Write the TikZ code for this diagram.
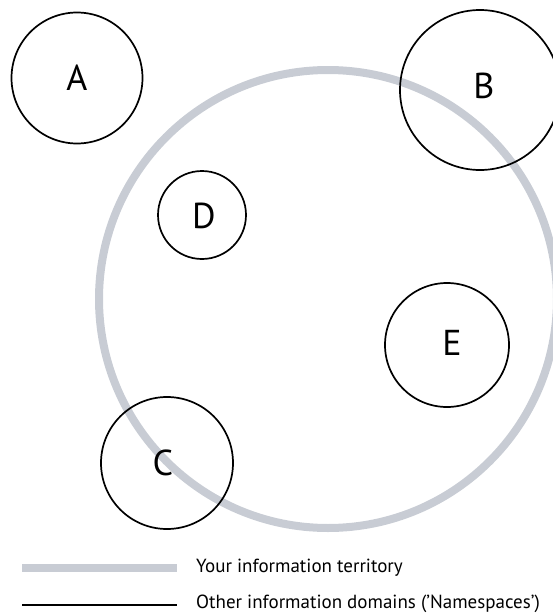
\documentclass[tikz,border=0pt]{standalone}
\usepackage{fontspec}
\setmainfont{PT Sans}
\definecolor{territory}{RGB}{200,204,212}
\begin{document}
\begin{tikzpicture}[x=1pt,y=-1pt,
  nscircle/.style={circle,draw=black,line width=1.7pt,inner sep=0pt},
  nsletter/.style={inner sep=0pt,font=\fontsize{36}{40}\selectfont},
  terr/.style={draw=territory,line width=8pt},
  legendtext/.style={anchor=west,inner sep=0pt,font=\fontsize{19}{22}\selectfont}]
\useasboundingbox (0,0) rectangle (553,616);
\begin{scope}
\clip (0,0) rectangle (553,616);
% the territory
\node[circle,terr,minimum size=458pt,inner sep=0pt] (T) at (328,299) {};
% information domains
\node[nscircle,minimum size=131pt] (A) at (77,78) {};
\node[nscircle,minimum size=160pt] (B) at (480,90) {};
\node[nscircle,minimum size=88pt] (D) at (202,215) {};
\node[nscircle,minimum size=124pt] (E) at (447,345) {};
\node[nscircle,minimum size=132pt] (C) at (167,463) {};
% their letters
\node[nsletter] (lA) at (77,78) {A};
\node[nsletter] (lB) at (484,86) {B};
\node[nsletter] (lD) at (204,216) {D};
\node[nsletter] (lE) at (452,343) {E};
\node[nsletter] (lC) at (163,463) {C};
\end{scope}
% legend
\coordinate (g1) at (22,568);
\coordinate (g2) at (177,568);
\coordinate (k1) at (22,605);
\coordinate (k2) at (177,605);
\draw[draw=territory,line width=8pt] (g1) -- (g2);
\draw[black,line width=1.7pt] (k1) -- (k2);
\node[legendtext] (L1) at (196,568) {Your information territory};
\node[legendtext] (L2) at (196,604) {Other information domains (’Namespaces’)};
\end{tikzpicture}
\end{document}
